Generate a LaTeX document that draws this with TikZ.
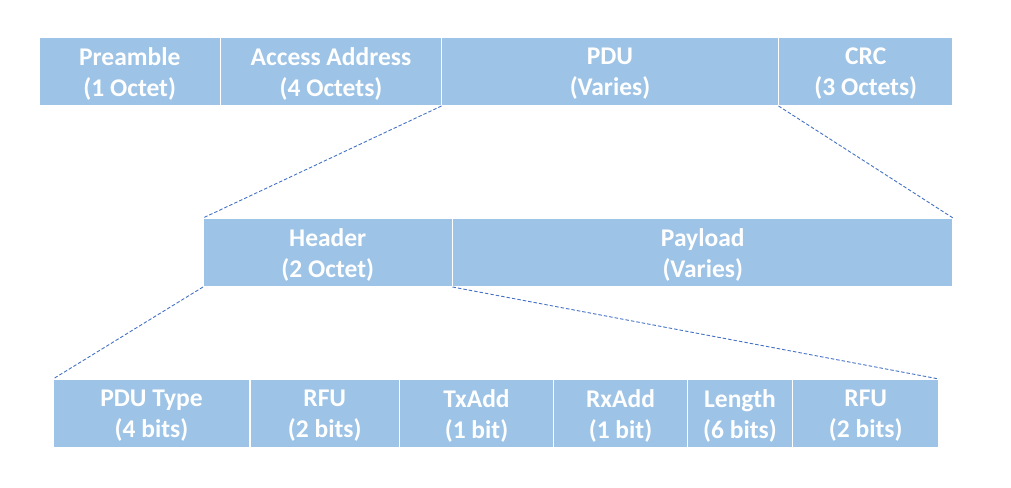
\documentclass[tikz,border=0pt]{standalone}
\usepackage{fontspec}
\setmainfont{Carlito}
\definecolor{boxblue}{HTML}{9DC3E6}
\definecolor{lineblue}{HTML}{4472C4}
\newcommand{\fld}[5]{%
  \node[field, minimum width=#4] (#1) at (#2,#3) {};
  \node[fieldtext] (#1-t) at ([yshift=-2.5pt]#1.center) {#5};}
\begin{document}
\begin{tikzpicture}[x=1pt,y=-1pt,
  field/.style={draw=white, line width=1.5pt, fill=boxblue,
    minimum height=69pt, inner sep=0pt, outer sep=0pt},
  fieldtext/.style={text=white, align=center, inner sep=0pt,
    font=\bfseries\fontsize{25.5}{31}\selectfont},
  zoomline/.style={draw=lineblue, line width=0.9pt, dash pattern=on 3.5pt off 2pt}]
\useasboundingbox (0,0) rectangle (1011,487);
% top row
\fld{pre}{129.75}{71.5}{181.5pt}{Preamble\\(1 Octet)}
\fld{acc}{331}{71.5}{221pt}{Access Address\\(4 Octets)}
\fld{pdu}{610}{71.5}{337pt}{PDU\\(Varies)}
\fld{crc}{865.75}{71.5}{174.5pt}{CRC\\(3 Octets)}
% middle row
\fld{hdr}{327.75}{252.5}{249.5pt}{Header\\(2 Octet)}
\fld{pay}{702.75}{252.5}{500.5pt}{Payload\\(Varies)}
% bottom row
\fld{ptype}{151.5}{413.5}{197pt}{PDU Type\\(4 bits)}
\fld{rfua}{324.75}{413.5}{149.5pt}{RFU\\(2 bits)}
\fld{tx}{476.5}{413.5}{154pt}{TxAdd\\(1 bit)}
\fld{rx}{620.5}{413.5}{134pt}{RxAdd\\(1 bit)}
\fld{len}{740}{413.5}{105pt}{Length\\(6 bits)}
\fld{rfub}{865.75}{413.5}{146.5pt}{RFU\\(2 bits)}
% zoom lines
\draw[zoomline] (pdu.south west) -- (hdr.north west);
\draw[zoomline] (pdu.south east) -- (pay.north east);
\draw[zoomline] (hdr.south west) -- (ptype.north west);
\draw[zoomline] (hdr.south east) -- (rfub.north east);
\end{tikzpicture}
\end{document}
